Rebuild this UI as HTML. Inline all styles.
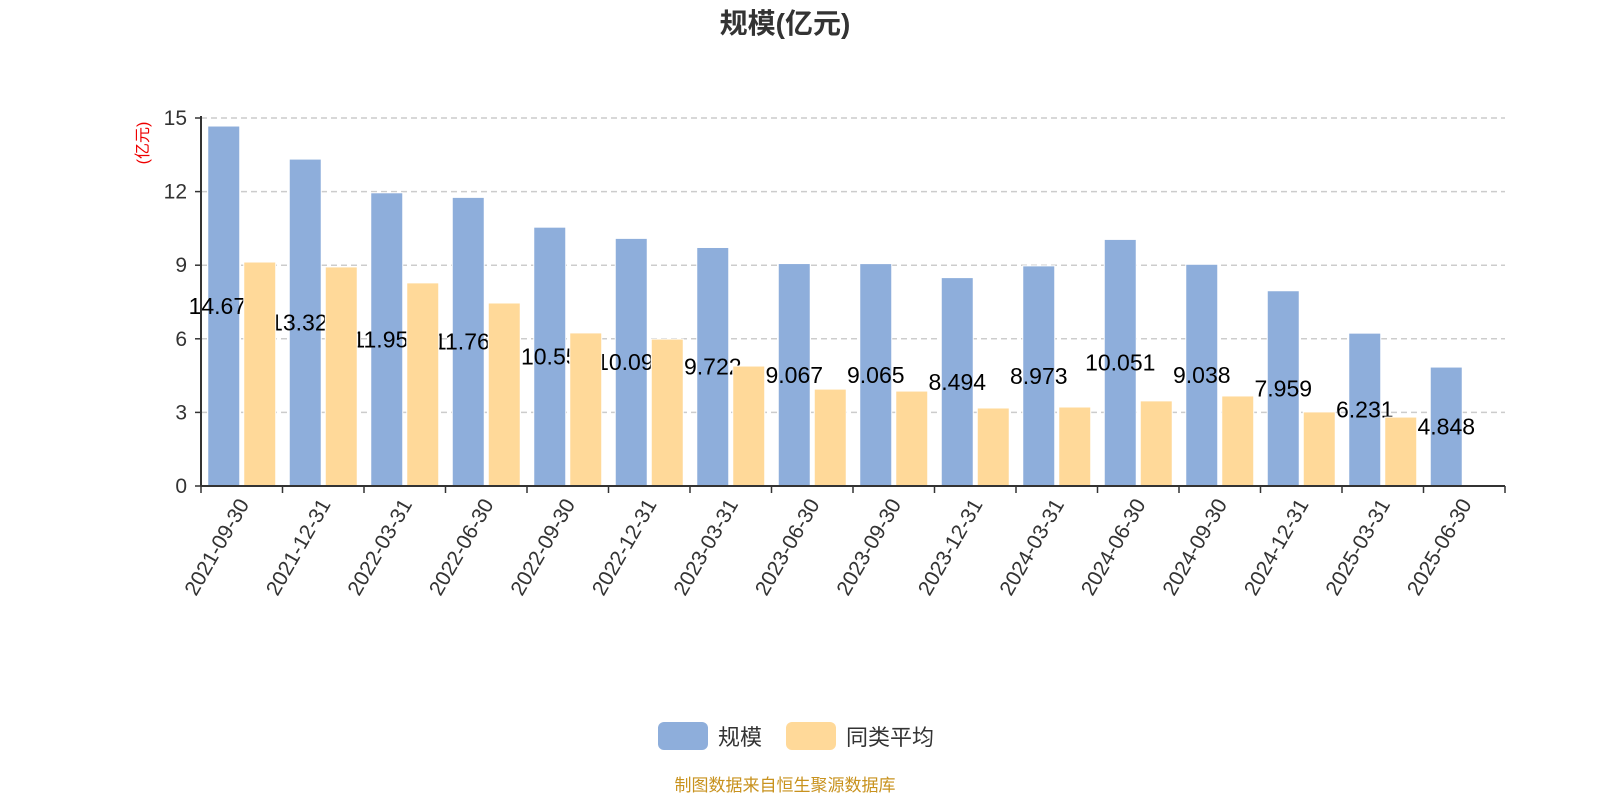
<!DOCTYPE html>
<html><head><meta charset="utf-8">
<style>
body{margin:0;background:#fff;}
svg{display:block;font-family:"Liberation Sans","Noto Sans CJK SC",sans-serif;}
</style></head>
<body>
<svg id="chart" width="1600" height="800">
<text x="785" y="33" text-anchor="middle" font-size="28" font-weight="bold" fill="#333">规模(亿元)</text>
<text transform="translate(148,143) rotate(-90)" text-anchor="middle" font-size="16" fill="#e00">(亿元)</text>
<g id="grid"></g><g id="bars"></g><g id="labels"></g><g id="bars2"></g><g id="axes"></g>
<g>
<rect x="658" y="722" width="50" height="28" rx="6" fill="#8eaedb"/>
<text x="718" y="745" font-size="22" fill="#333">规模</text>
<rect x="786" y="722" width="50" height="28" rx="6" fill="#ffd999"/>
<text x="846" y="745" font-size="22" fill="#333">同类平均</text>
</g>
<text x="785" y="791" text-anchor="middle" font-size="17" fill="#c8921e">制图数据来自恒生聚源数据库</text>
</svg>
<script>
const categories=["2021-09-30","2021-12-31","2022-03-31","2022-06-30","2022-09-30","2022-12-31","2023-03-31","2023-06-30","2023-09-30","2023-12-31","2024-03-31","2024-06-30","2024-09-30","2024-12-31","2025-03-31","2025-06-30"];
const scaleValues=[14.673,13.325,11.952,11.764,10.55,10.093,9.722,9.067,9.065,8.494,8.973,10.051,9.038,7.959,6.231,4.848];
const avgValues=[9.13,8.93,8.28,7.46,6.24,5.99,4.89,3.95,3.87,3.18,3.22,3.47,3.67,3.02,2.81,null];
const yTicks=[0,3,6,9,12,15];
const NS="http://www.w3.org/2000/svg";
const X0=201,X1=1505,Y0=486,Y1=118,YMAX=15;
const slot=(X1-X0)/categories.length;
const y=v=>Y0-(v/YMAX)*(Y0-Y1);
const xs=i=>X0+i*slot;
function mk(tag,attrs,parent,txt){const e=document.createElementNS(NS,tag);for(const k in attrs)e.setAttribute(k,attrs[k]);if(txt!==undefined)e.textContent=txt;document.getElementById(parent).appendChild(e);return e;}
yTicks.forEach(t=>{
  if(t>0){const g=mk('line',{x1:X0,x2:X1,y1:y(t),y2:y(t),stroke:'#ccc','stroke-width':1.5,'stroke-dasharray':'6,4'},'grid');
  
  }
  const tl=mk('text',{x:X0-14,y:y(t)+7,'text-anchor':'end','font-size':21,fill:'#333'},'axes',String(t));
  
  
  mk('line',{x1:X0-6,x2:X0,y1:y(t),y2:y(t),stroke:'#333','stroke-width':1.5},'axes');
});
const bw=32;
categories.forEach((c,i)=>{
  const cx=xs(i)+slot/2;
  const v=scaleValues[i];
  const b=mk('rect',{x:cx-bw-2,y:y(v),width:bw,height:Y0-y(v),fill:'#8eaedb',stroke:'#fff','stroke-width':1},'bars');
  
  
  const lb=mk('text',{x:cx-bw/2-2,y:(y(v)+Y0)/2+8,'text-anchor':'middle','font-size':23,fill:'#000'},'labels',String(v));
  
  
  const a=avgValues[i];
  if(a!==null){const r=mk('rect',{x:cx+2,y:y(a),width:bw,height:Y0-y(a),fill:'#ffd999',stroke:'#fff','stroke-width':1},'bars2');
  
  }
  mk('line',{x1:xs(i),x2:xs(i),y1:Y0,y2:Y0+7,stroke:'#333','stroke-width':1.5},'axes');
  const xl=mk('text',{transform:`translate(${cx+8},${Y0+18}) rotate(-60)`,'text-anchor':'end','font-size':21,fill:'#333'},'axes',c);
  
  
});
mk('line',{x1:X1,x2:X1,y1:Y0,y2:Y0+7,stroke:'#333','stroke-width':1.5},'axes');
const ax=mk('line',{x1:X0,x2:X1,y1:Y0,y2:Y0,stroke:'#333','stroke-width':2},'axes');


const ay=mk('line',{x1:X0,x2:X0,y1:Y1-2,y2:Y0,stroke:'#333','stroke-width':2},'axes');


</script>
</body></html>
